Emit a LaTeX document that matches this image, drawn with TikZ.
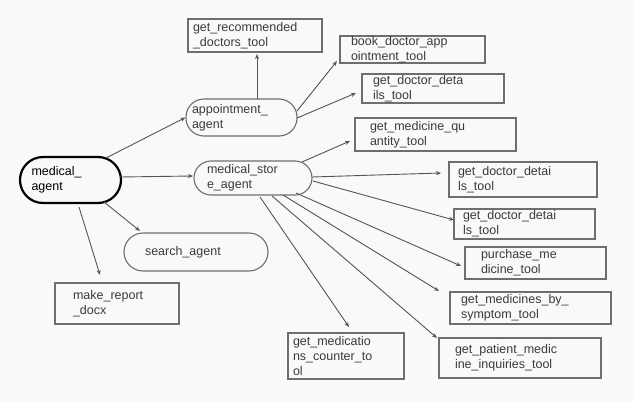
\documentclass[tikz,border=0pt]{standalone}
\usepackage{fontspec}
\setmainfont{Liberation Sans}
\usetikzlibrary{arrows.meta}
\definecolor{bg}{HTML}{F8F9FA}
\definecolor{boxc}{HTML}{6E6E6E}
\definecolor{linec}{HTML}{555555}
\definecolor{txt}{HTML}{3A3A3A}
\begin{document}
\begin{tikzpicture}[x=1pt,y=-1pt,
  every node/.style={font=\fontsize{12.5}{15}\selectfont},
  tool/.style={draw=boxc, line width=1.2pt, text=txt, align=left, inner ysep=0pt},
  agent/.style={draw=boxc, line width=1.1pt, text=txt, align=left, inner ysep=0pt},
  arr/.style={draw=linec, line width=0.9pt, -{Stealth[length=5pt,width=4pt]}}]
\useasboundingbox (0,0) rectangle (635,407);
\fill[white] (0,0) rectangle (635,407);
\fill[bg] (0,0) rectangle (634,402);
% agents
\node[agent, draw=black, line width=2.2pt, text=black, rounded corners=23pt, minimum height=46pt, text width=78pt, inner xsep=11.5pt] (ma) at (70.5,180) {medical\_\\agent};
\node[agent, rounded corners=18pt, minimum height=37pt, text width=99pt, inner xsep=6pt] (app) at (241.5,117.5) {appointment\_\\agent};
\node[agent, rounded corners=17pt, minimum height=34pt, text width=92pt, inner xsep=13pt] (ms) at (253,178) {medical\_stor\\e\_agent};
\node[agent, rounded corners=19pt, minimum height=38pt, text width=102pt, inner xsep=21pt] (sa) at (196,252) {search\_agent};
% tools
\node[tool, minimum height=33pt, text width=124pt, inner xsep=5pt] (rec) at (255,35.5) {get\_recommended\\\_doctors\_tool};
\node[tool, minimum height=27pt, text width=123pt, inner xsep=11pt] (book) at (412.5,49.5) {book\_doctor\_app\\ointment\_tool};
\node[tool, minimum height=29pt, text width=120pt, inner xsep=11pt] (gdda) at (433,88.5) {get\_doctor\_deta\\ils\_tool};
\node[tool, minimum height=33pt, text width=131pt, inner xsep=15pt] (gmq) at (435.5,134.5) {get\_medicine\_qu\\antity\_tool};
\node[tool, minimum height=35pt, text width=130pt, inner xsep=9pt] (gddb) at (523,179.5) {get\_doctor\_detai\\ls\_tool};
\node[tool, minimum height=30pt, text width=123pt, inner xsep=9pt] (gddc) at (524.5,224) {get\_doctor\_detai\\ls\_tool};
\node[tool, minimum height=32pt, text width=109pt, inner xsep=16pt] (pur) at (535.5,263) {purchase\_me\\dicine\_tool};
\node[tool, minimum height=32pt, text width=139pt, inner xsep=11pt] (sym) at (530.5,308) {get\_medicines\_by\_\\symptom\_tool};
\node[tool, minimum height=40pt, text width=130pt, inner xsep=16pt] (pat) at (520,358) {get\_patient\_medic\\ine\_inquiries\_tool};
\node[tool, minimum height=46pt, text width=106pt, inner xsep=5pt] (cnt) at (346,356) {get\_medicatio\\ns\_counter\_to\\ol};
\node[tool, minimum height=41pt, text width=88pt, inner xsep=18pt] (rep) at (117,303.5) {make\_report\\\_docx};
% connectors
\draw[arr] ([shift={(35.5,-22)}]ma.center) -- (app.west);
\draw[arr] ([shift={(49.5,-3)}]ma.center) -- ([shift={(-60,-2)}]ms.center);
\draw[arr] ([shift={(33.5,22)}]ma.center) -- ([shift={(-56,-21)}]sa.center);
\draw[arr] ([shift={(8.5,27)}]ma.center) -- ([shift={(-17,-28.5)}]rep.center);
\draw[arr] ([shift={(15.5,-18.5)}]app.center) -- ([shift={(2,18.5)}]rec.center);
\draw[arr] ([shift={(55.5,-6.5)}]app.center) -- ([shift={(-75.5,11.5)}]book.center);
\draw[arr] ([shift={(55.5,0.5)}]app.center) -- ([shift={(-77,4.5)}]gdda.center);
\draw[arr] ([shift={(49,-16)}]ms.center) -- ([shift={(-85.5,6.5)}]gmq.center);
\draw[arr] ([shift={(59,-1)}]ms.center) -- ([shift={(-82,-6.5)}]gddb.center);
\draw[arr] ([shift={(60,3)}]ms.center) -- ([shift={(-70.5,-4)}]gddc.center);
\draw[arr] ([shift={(43,15)}]ms.center) -- ([shift={(-74.5,3)}]pur.center);
\draw[arr] ([shift={(30,17)}]ms.center) -- ([shift={(-91.5,-17)}]sym.center);
\draw[arr] ([shift={(19,18)}]ms.center) -- ([shift={(-83,-20)}]pat.center);
\draw[arr] ([shift={(7,19)}]ms.center) -- ([shift={(3,-29)}]cnt.center);
\end{tikzpicture}
\end{document}
